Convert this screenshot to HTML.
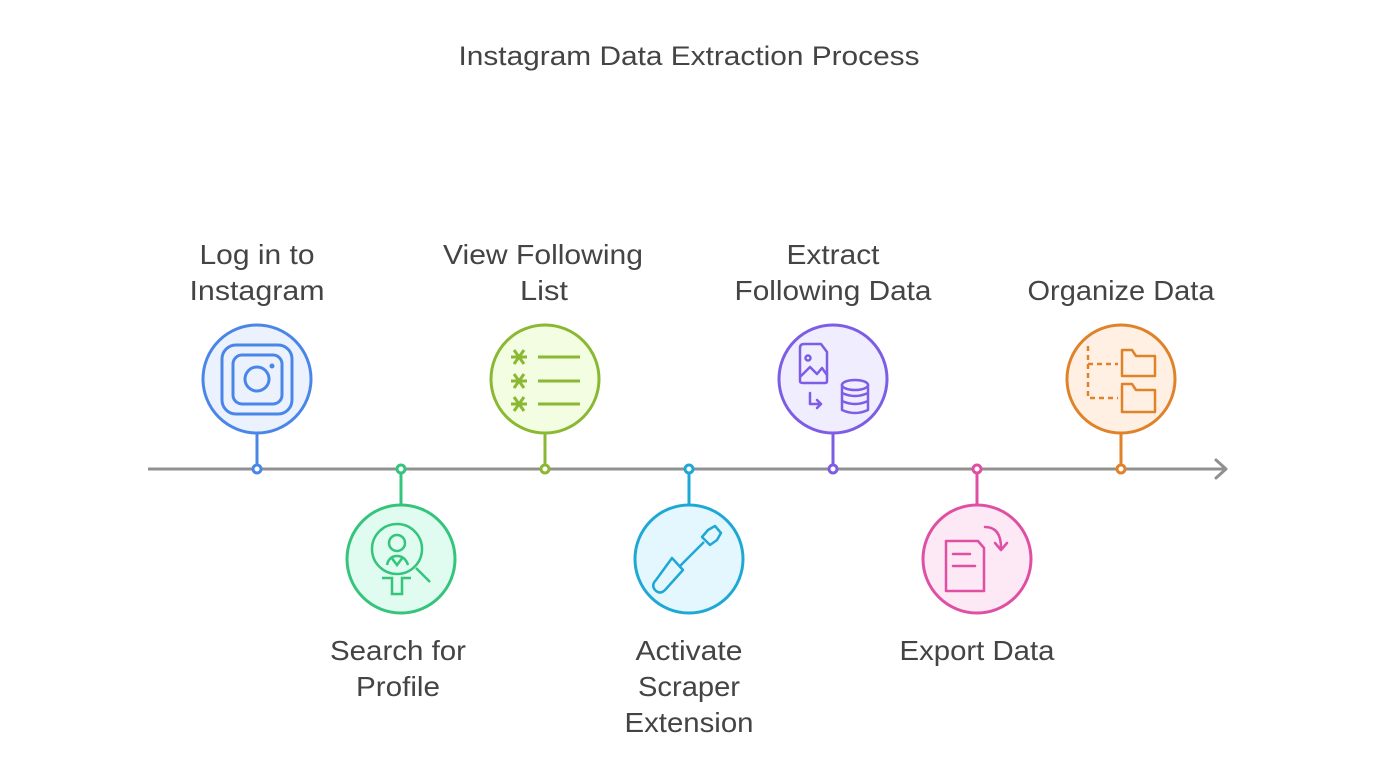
<!DOCTYPE html>
<html><head><meta charset="utf-8"><style>
html,body{margin:0;padding:0;background:#fff;}
svg{display:block}
text{font-family:"Liberation Sans",sans-serif;fill:#444;}
</style></head><body>
<svg width="1379" height="777" viewBox="0 0 1379 777" xmlns="http://www.w3.org/2000/svg">
<text x="689" y="65" font-size="27" text-anchor="middle" textLength="461" lengthAdjust="spacingAndGlyphs">Instagram Data Extraction Process</text>
<line x1="148" y1="469" x2="1226" y2="469" stroke="#909090" stroke-width="3"/>
<polyline points="1216,460 1226,469 1216,478" fill="none" stroke="#909090" stroke-width="3" stroke-linecap="round" stroke-linejoin="round"/>
<g stroke-width="3" fill="none">
<line x1="257" y1="433" x2="257" y2="465" stroke="#4a86e8"/>
<circle cx="257" cy="469" r="4" fill="#fff" stroke="#4a86e8"/>
<circle cx="257" cy="379" r="54" fill="#ebf2fe" stroke="#4a86e8"/>
<rect x="222" y="345" width="70" height="69" rx="14" stroke="#4a86e8"/>
<rect x="233" y="355" width="49" height="49" rx="9" stroke="#4a86e8"/>
<circle cx="257" cy="379" r="12" stroke="#4a86e8"/>
<circle cx="272" cy="366" r="2.5" fill="#4a86e8" stroke="none"/>
<line x1="401" y1="473" x2="401" y2="505" stroke="#34c47c"/>
<circle cx="401" cy="469" r="4" fill="#fff" stroke="#34c47c"/>
<circle cx="401" cy="559" r="54" fill="#e0fbef" stroke="#34c47c"/>
<circle cx="397" cy="549" r="25" stroke="#34c47c" stroke-width="2.5"/>
<circle cx="397" cy="543" r="8" stroke="#34c47c" stroke-width="2.5"/>
<path d="M387 565 Q389 556 397 556 Q405 556 408 565 M391 557 L397 565 L403 557" stroke="#34c47c" stroke-width="2.5"/>
<line x1="416" y1="568" x2="430" y2="582" stroke="#34c47c" stroke-width="2.5"/>
<path d="M382 578 L392 578 L392 594 L402 594 L402 578 L411 578" stroke="#34c47c" stroke-width="2.5"/>
<line x1="545" y1="433" x2="545" y2="465" stroke="#8ab832"/>
<circle cx="545" cy="469" r="4" fill="#fff" stroke="#8ab832"/>
<circle cx="545" cy="379" r="54" fill="#f3fde2" stroke="#8ab832"/>
<g stroke="#8ab832" stroke-width="3">
<line x1="538" y1="357" x2="580" y2="357"/><line x1="538" y1="381" x2="580" y2="381"/><line x1="538" y1="404" x2="580" y2="404"/>
<path d="M511 357 H527 M514 350 L524 364 M524 350 L514 364"/>
<path d="M511 381 H527 M514 374 L524 388 M524 374 L514 388"/>
<path d="M511 404 H527 M514 397 L524 411 M524 397 L514 411"/>
</g>
<line x1="689" y1="473" x2="689" y2="505" stroke="#1ea8d6"/>
<circle cx="689" cy="469" r="4" fill="#fff" stroke="#1ea8d6"/>
<circle cx="689" cy="559" r="54" fill="#e5f7fe" stroke="#1ea8d6"/>
<g stroke="#1ea8d6" stroke-width="2.5" stroke-linejoin="round">
<path d="M702 537 L708 530 L715 526 L721 533 L717 540 L710 545 Z"/>
<line x1="704" y1="542" x2="680" y2="566"/>
<path d="M672 558 L683 570 L665 590 Q660 595 655 590 Q651 585 656 580 Z"/>
</g>
<line x1="833" y1="433" x2="833" y2="465" stroke="#7d5ce6"/>
<circle cx="833" cy="469" r="4" fill="#fff" stroke="#7d5ce6"/>
<circle cx="833" cy="379" r="54" fill="#f0edfe" stroke="#7d5ce6"/>
<g stroke="#7d5ce6" stroke-width="2.5" stroke-linejoin="round" stroke-linecap="round">
<path d="M800 348 Q800 344 804 344 H821 L827 352 V381 Q827 383 825 383 H803 Q800 383 800 381 Z"/>
<circle cx="808" cy="358" r="2.5"/>
<path d="M801 376 L810 367 L817 374 L822 368 L827 375"/>
<path d="M810 393 V404 H821 M817 400 L821 404 L817 408"/>
<ellipse cx="855" cy="385" rx="13" ry="5"/>
<path d="M842 385 V410 Q855 416 868 410 V385 M842 393 Q855 399 868 393 M842 401 Q855 407 868 401"/>
</g>
<line x1="977" y1="473" x2="977" y2="505" stroke="#df4fa4"/>
<circle cx="977" cy="469" r="4" fill="#fff" stroke="#df4fa4"/>
<circle cx="977" cy="559" r="54" fill="#fde9f5" stroke="#df4fa4"/>
<g stroke="#df4fa4" stroke-width="2.5" stroke-linejoin="round" stroke-linecap="round">
<path d="M946 541 H978 L984 548 V591 H946 Z"/>
<line x1="953" y1="554" x2="970" y2="554"/><line x1="953" y1="566" x2="975" y2="566"/>
<path d="M985 527 Q1001 527 1001 548 M995 543 L1001 550 L1007 543"/>
</g>
<line x1="1121" y1="433" x2="1121" y2="465" stroke="#e0822a"/>
<circle cx="1121" cy="469" r="4" fill="#fff" stroke="#e0822a"/>
<circle cx="1121" cy="379" r="54" fill="#fff0e3" stroke="#e0822a"/>
<g stroke="#e0822a" stroke-width="2.5" stroke-linejoin="round">
<path d="M1088 346 V398 H1118 M1088 364 H1118" stroke-dasharray="5 4"/>
<path d="M1122 350 H1132 L1136 356 H1155 V376 H1122 Z"/>
<path d="M1122 384 H1132 L1136 390 H1155 V412 H1122 Z"/>
</g>
</g>
<g font-size="28" text-anchor="middle">
<text x="257" y="264" textLength="115" lengthAdjust="spacingAndGlyphs">Log in to</text><text x="257" y="300" textLength="135" lengthAdjust="spacingAndGlyphs">Instagram</text>
<text x="543" y="264" textLength="200" lengthAdjust="spacingAndGlyphs">View Following</text><text x="544" y="300" textLength="48" lengthAdjust="spacingAndGlyphs">List</text>
<text x="833" y="264" textLength="93" lengthAdjust="spacingAndGlyphs">Extract</text><text x="833" y="300" textLength="197" lengthAdjust="spacingAndGlyphs">Following Data</text>
<text x="1121" y="300" textLength="187" lengthAdjust="spacingAndGlyphs">Organize Data</text>
<text x="398" y="660" textLength="136" lengthAdjust="spacingAndGlyphs">Search for</text><text x="398" y="696" textLength="84" lengthAdjust="spacingAndGlyphs">Profile</text>
<text x="689" y="660" textLength="107" lengthAdjust="spacingAndGlyphs">Activate</text><text x="689" y="696" textLength="102" lengthAdjust="spacingAndGlyphs">Scraper</text><text x="689" y="732" textLength="129" lengthAdjust="spacingAndGlyphs">Extension</text>
<text x="977" y="660" textLength="155" lengthAdjust="spacingAndGlyphs">Export Data</text>
</g>
</svg>
</body></html>
